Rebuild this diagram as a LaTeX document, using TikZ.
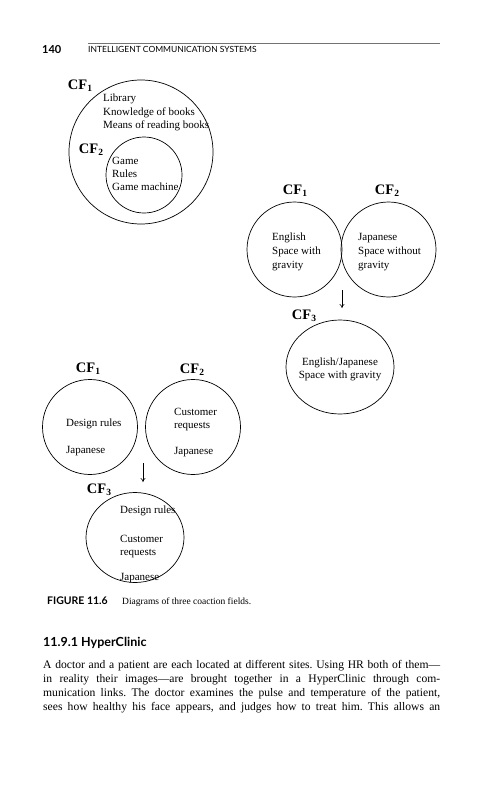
\documentclass[tikz,border=0pt]{standalone}
\usepackage{fontspec}
\setmainfont{Liberation Serif}
\newfontfamily\hsans{Lato}
\usetikzlibrary{shapes.geometric,arrows.meta}
\newcommand{\cfl}[1]{CF\raisebox{-0.3ex}{\fontsize{9.5}{9.5}\selectfont #1}}
\frenchspacing
\begin{document}
\begin{tikzpicture}[x=1pt,y=-1pt,
  cf/.style={font=\fontsize{14.5}{14.5}\selectfont\bfseries, inner sep=0},
  txt/.style={font=\fontsize{11}{13}\selectfont, inner sep=0, anchor=base west},
  ctxt/.style={font=\fontsize{11}{13}\selectfont, inner sep=0, anchor=base},
  ring/.style={draw, circle, line width=0.7pt, inner sep=0},
  oval/.style={draw, ellipse, line width=0.7pt, inner sep=0},
  arr/.style={-{To[length=4pt,width=5pt]}, line width=0.6pt},
  body/.style={font=\fontsize{11.6}{13}\selectfont, inner sep=0, anchor=base west}]
\useasboundingbox (0,0) rectangle (486,800);
\fill[white] (0,0) rectangle (486,800);
% header
\node[font=\hsans\fontsize{11}{11}\selectfont\bfseries, inner sep=0, anchor=base west] (pg) at (42,53) {140};
\node[font=\hsans\fontsize{8.5}{8.5}\selectfont, inner sep=0, anchor=base west] (hd) at (88,52.5) {INTELLIGENT COMMUNICATION SYSTEMS};
\coordinate (r1) at (88,43.5);
\coordinate (r2) at (440,43.5);
\draw[line width=0.4pt, black!55] (r1) -- (r2);

% diagram 1
\node[ring, minimum size=144pt] (o1) at (141,152) {};
\node[ring, minimum size=76pt] (i1) at (144,175) {};
\node[cf] (cf1a) at (80,86) {\cfl{1}};
\node[cf] (cf2a) at (91,150) {\cfl{2}};
\node[txt] (l1) at (103,101.5) {Library};
\node[txt] (l2) at (103,115) {Knowledge of books};
\node[txt] (l3) at (103,128.5) {Means of reading books};
\node[txt] (g1) at (112,164.5) {Game};
\node[txt] (g2) at (112,177.5) {Rules};
\node[txt] (g3) at (112,190.5) {Game machine};

% diagram 2
\node[ring, minimum size=95pt] (e1) at (294.5,249.5) {};
\node[ring, minimum size=95pt] (j1) at (388.5,249.5) {};
\node[cf] (cf1b) at (295,191) {\cfl{1}};
\node[cf] (cf2b) at (387,191) {\cfl{2}};
\node[txt] (en1) at (272,240.5) {English};
\node[txt] (en2) at (272,254.5) {Space with};
\node[txt] (en3) at (272,268.5) {gravity};
\node[txt] (ja1) at (358,240.5) {Japanese};
\node[txt] (ja2) at (358,254.5) {Space without};
\node[txt] (ja3) at (358,268.5) {gravity};
\coordinate (a2s) at (342,290);
\coordinate (a2e) at (342,308);
\draw[arr] (a2s) -- (a2e);
\node[cf] (cf3b) at (304,316) {\cfl{3}};
\node[oval, minimum width=108pt, minimum height=94pt] (m2) at (340,367) {};
\node[ctxt] (m2a) at (340,365.5) {English/Japanese};
\node[ctxt] (m2b) at (340,378.5) {Space with gravity};

% diagram 3
\node[cf] (cf1c) at (88,369) {\cfl{1}};
\node[cf] (cf2c) at (192,370) {\cfl{2}};
\node[ring, minimum size=95pt] (d1) at (90,427) {};
\node[ring, minimum size=95pt] (d2) at (193,427) {};
\node[txt] (d1a) at (66,426.5) {Design rules};
\node[txt] (d1b) at (66,453.5) {Japanese};
\node[txt] (d2a) at (174,415.5) {Customer};
\node[txt] (d2b) at (174,428) {requests};
\node[txt] (d2c) at (174,454.5) {Japanese};
\coordinate (a3s) at (143,463);
\coordinate (a3e) at (143,482);
\draw[arr] (a3s) -- (a3e);
\node[cf] (cf3c) at (99,490) {\cfl{3}};
\node[oval, minimum width=98pt, minimum height=90pt] (m3) at (135,537.5) {};
\node[txt] (m3a) at (120,513.5) {Design rules};
\node[txt] (m3b) at (120,542.5) {Customer};
\node[txt] (m3c) at (120,555) {requests};
\node[txt] (m3d) at (120,580.5) {Japanese};

% caption
\node[font=\hsans\fontsize{10.5}{10.5}\selectfont\bfseries, inner sep=0, anchor=base west] (fig) at (47,604.5) {FIGURE 11.6};
\node[font=\fontsize{9.5}{9.5}\selectfont, inner sep=0, anchor=base west] (cap) at (122,604.5) {Diagrams of three coaction fields.};

% section
\node[font=\hsans\fontsize{12.5}{12.5}\selectfont\bfseries, inner sep=0, anchor=base west] (sec) at (43,646) {11.9.1 HyperClinic};
\node[body] (b1) at (43,668) {\makebox[397pt][s]{A doctor and a patient are each located at different sites. Using HR both of them---}};
\node[body] (b2) at (43,682.3) {\makebox[397pt][s]{in reality their images---are brought together in a HyperClinic through com-}};
\node[body] (b3) at (43,696.6) {\makebox[397pt][s]{munication links. The doctor examines the pulse and temperature of the patient,}};
\node[body] (b4) at (43,710.9) {\makebox[397pt][s]{sees how healthy his face appears, and judges how to treat him. This allows an}};
\end{tikzpicture}
\end{document}
